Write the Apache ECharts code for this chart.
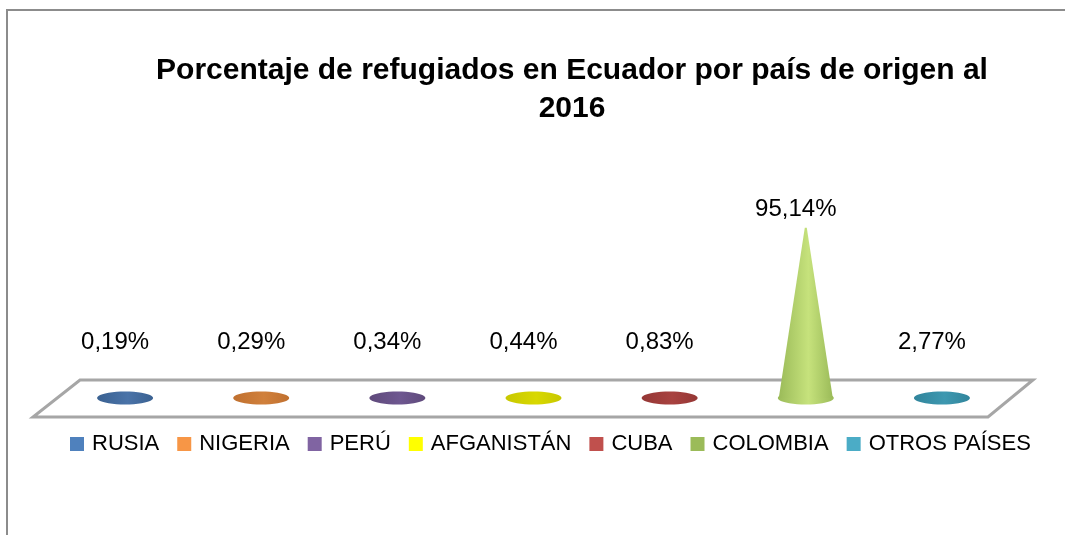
<!DOCTYPE html>
<html>
<head>
<meta charset="utf-8">
<script src="https://cdn.jsdelivr.net/npm/echarts@6/dist/echarts.min.js"></script>
<style>
html, body { margin: 0; padding: 0; background: #fff; }
#chart { width: 1065px; height: 535px; }
</style>
</head>
<body>
<div id="chart"></div>
<script>
// datos
var countries = ["RUSIA", "NIGERIA", "PERÚ", "AFGANISTÁN", "CUBA", "COLOMBIA", "OTROS PAÍSES"];
var percents = [0.19, 0.29, 0.34, 0.44, 0.83, 95.14, 2.77];
var legendColors = ["#4f81bd", "#f79646", "#8064a2", "#ffff00", "#c0504d", "#9bbb59", "#4bacc6"];
var coneColors = ["#3a6191", "#c0702f", "#5f4a7b", "#c8c800", "#953735", "#9bbb59", "#31859c"];
var coneLight = ["#4a73a8", "#d0803c", "#6e5790", "#d8d800", "#a84240", "#c6e27c", "#3e98b0"];

var chart = echarts.init(document.getElementById("chart"));

function cone(params, api) {
  var i = api.value(0);
  var base = api.coord([i, 0]);
  var top = api.coord([i, api.value(1)]);
  var cx = base[0], by = base[1];
  var rx = 28, ry = 6.5;
  var pts = [];
  for (var k = 0; k <= 40; k++) {
    var t = Math.PI * 2 * k / 40;
    pts.push([cx + rx * Math.cos(t), by + ry * Math.sin(t)]);
  }
  var fill = new echarts.graphic.LinearGradient(0, 0, 1, 0, [
    { offset: 0, color: coneColors[params.seriesIndex] },
    { offset: 0.55, color: coneLight[params.seriesIndex] },
    { offset: 1, color: coneColors[params.seriesIndex] }
  ]);
  var children = [{ type: "polygon", shape: { points: pts }, style: { fill: fill } }];
  if (by - top[1] > 2) {
    children.push({
      type: "polygon",
      shape: { points: [[cx - rx + 1, by], [cx - 1, top[1]], [cx + 1, top[1]], [cx + rx - 1, by]] },
      style: { fill: fill }
    });
  }
  // etiqueta encima del cono
  var labelY = Math.min(top[1] - 6, by - 44);
  children.push({
    type: "text",
    style: {
      x: cx - 10, y: labelY,
      text: api.value(1).toFixed(2).replace(".", ",") + "%",
      fill: "#000", font: "24px 'Liberation Sans'",
      align: "center", verticalAlign: "bottom"
    }
  });
  return { type: "group", children: children };
}

var series = countries.map(function (name, i) {
  return {
    name: name,
    type: "custom",
    z: 3,
    itemStyle: { color: legendColors[i] },
    renderItem: cone,
    data: [[i, percents[i]]]
  };
});

chart.setOption({
  animation: false,
  title: {
    text: "Porcentaje de refugiados en Ecuador por país de origen al\n2016",
    left: 567,
    top: 47,
    textAlign: "center",
    textStyle: { fontFamily: "Liberation Sans", fontWeight: "bold", fontSize: 30, lineHeight: 38, color: "#000" }
  },
  legend: {
    top: 428,
    left: 65,
    icon: "rect",
    itemWidth: 14,
    itemHeight: 14,
    itemGap: 18,
    textStyle: { fontFamily: "Liberation Sans", fontSize: 22, color: "#000", padding: [0, 0, 0, 3] },
    data: countries
  },
  grid: { left: 57, right: 55, top: 219, bottom: 137 },
  xAxis: { type: "category", data: countries, show: false },
  yAxis: { type: "value", min: 0, max: 100, show: false },
  graphic: [
    {
      type: "polyline", z: 0,
      shape: { points: [[7, 540], [7, 10], [1070, 10]] },
      style: { stroke: "#8c8c8c", lineWidth: 2, fill: null }
    },
    {
      type: "polygon", z: 0,
      shape: { points: [[80, 380], [1033, 380], [988, 417], [33, 417]] },
      style: { stroke: "#a6a6a6", lineWidth: 3, fill: "#fff" }
    }
  ],
  series: series
});
</script>
</body>
</html>
